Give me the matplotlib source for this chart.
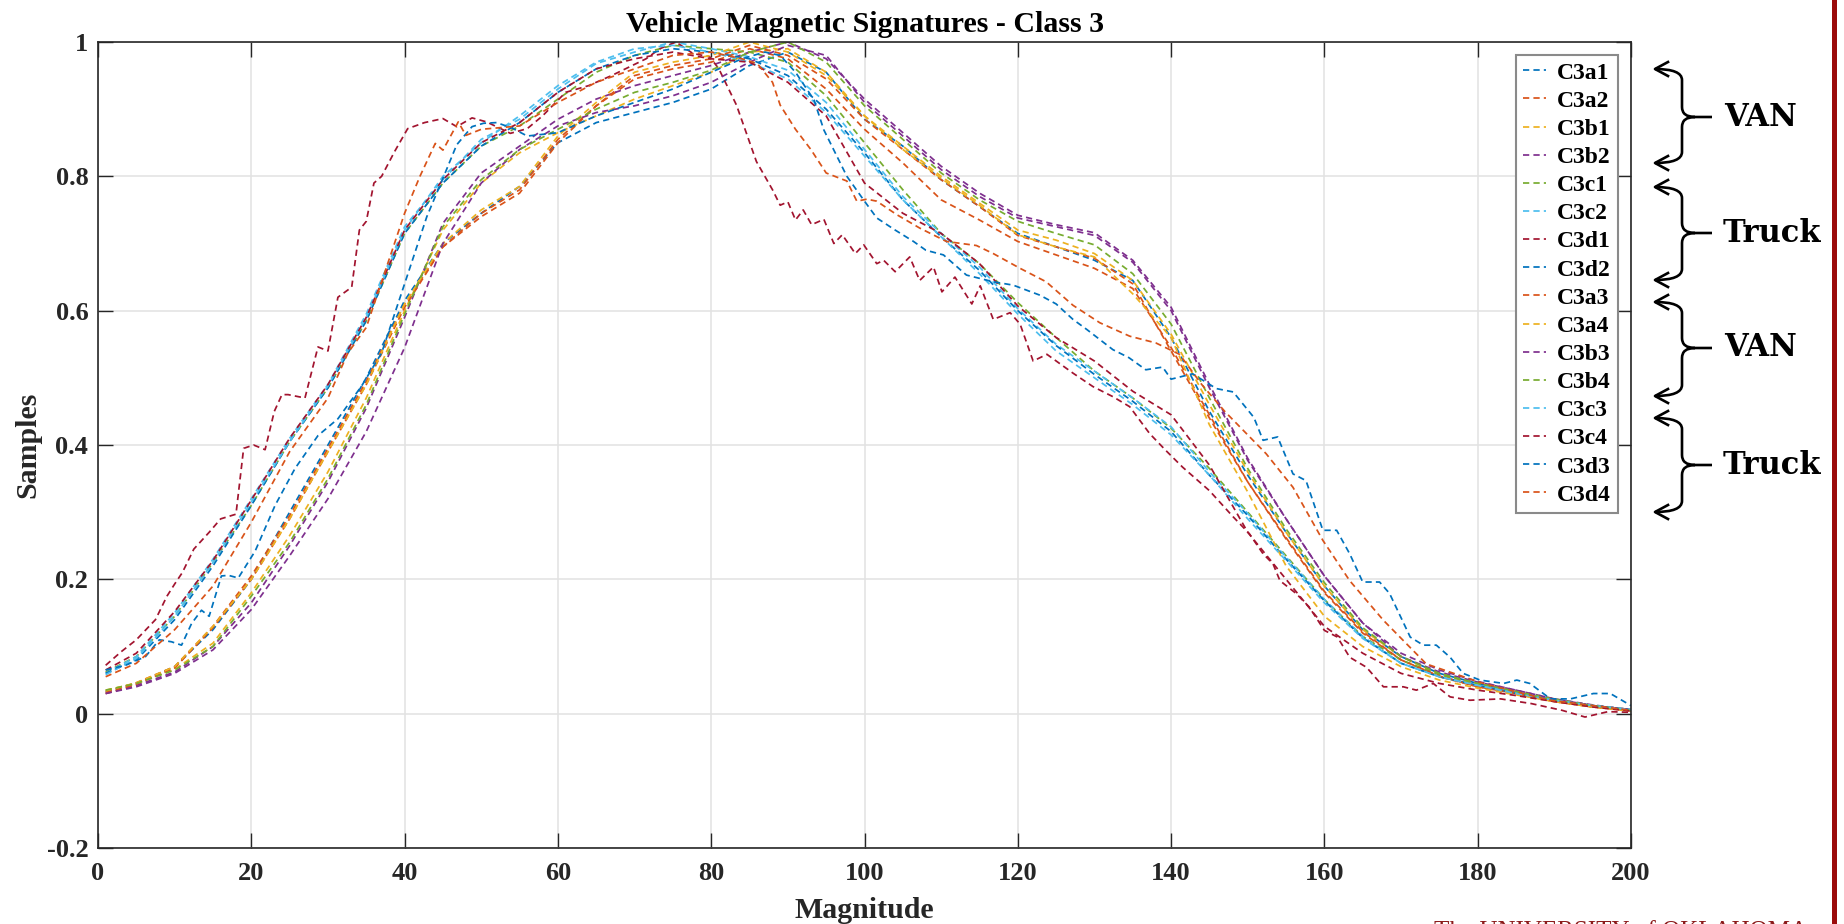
import matplotlib
matplotlib.use('Agg')
import matplotlib.pyplot as plt
from matplotlib.path import Path
from matplotlib.patches import PathPatch, Rectangle
from matplotlib.lines import Line2D
import matplotlib.transforms as mtransforms
from matplotlib.font_manager import FontProperties

# ---------------- data ----------------
X_COMMON = [1, 5, 10, 15, 20, 25, 30, 35, 40, 45, 50, 55, 60, 65, 70, 75, 80, 85, 90, 95,
            100, 105, 110, 115, 120, 125, 130, 135, 140, 145, 150, 155, 160, 165, 170, 175,
            180, 185, 190, 195, 200]

C3a1 = [0.033, 0.045, 0.07, 0.125, 0.2, 0.3, 0.40, 0.50, 0.615, 0.70, 0.745, 0.785, 0.85, 0.88,
        0.895, 0.91, 0.93, 0.965, 0.985, 0.955, 0.885, 0.845, 0.795, 0.755, 0.715, 0.695, 0.675,
        0.645, 0.56, 0.45, 0.355, 0.27, 0.19, 0.125, 0.085, 0.06, 0.045, 0.032, 0.02, 0.012, 0.005]
C3a2 = [0.032, 0.046, 0.07, 0.13, 0.205, 0.295, 0.395, 0.495, 0.61, 0.695, 0.745, 0.78, 0.855,
        0.905, 0.945, 0.96, 0.97, 0.99, 0.975, 0.93, 0.87, 0.82, 0.765, 0.735, 0.703, 0.683, 0.663,
        0.633, 0.545, 0.445, 0.345, 0.26, 0.18, 0.12, 0.08, 0.055, 0.04, 0.03, 0.018, 0.01, 0.004]
C3b1 = [0.035, 0.045, 0.066, 0.105, 0.18, 0.265, 0.36, 0.47, 0.60, 0.72, 0.79, 0.835, 0.865, 0.89,
        0.915, 0.935, 0.955, 0.985, 0.99, 0.955, 0.89, 0.845, 0.80, 0.76, 0.72, 0.705, 0.685, 0.645,
        0.565, 0.46, 0.36, 0.27, 0.19, 0.125, 0.085, 0.058, 0.042, 0.03, 0.02, 0.01, 0.005]
C3b2 = [0.03, 0.042, 0.062, 0.10, 0.165, 0.25, 0.345, 0.455, 0.59, 0.73, 0.805, 0.845, 0.885, 0.915,
        0.935, 0.95, 0.965, 0.985, 1.0, 0.975, 0.915, 0.865, 0.815, 0.775, 0.742, 0.728, 0.716,
        0.675, 0.605, 0.49, 0.38, 0.29, 0.205, 0.135, 0.085, 0.062, 0.047, 0.035, 0.022, 0.013, 0.006]
C3c1 = [0.062, 0.085, 0.145, 0.225, 0.31, 0.405, 0.485, 0.585, 0.715, 0.79, 0.845, 0.875, 0.915,
        0.955, 0.98, 0.995, 0.99, 0.985, 0.97, 0.92, 0.85, 0.78, 0.715, 0.67, 0.612, 0.56, 0.51,
        0.47, 0.425, 0.365, 0.30, 0.235, 0.17, 0.115, 0.08, 0.058, 0.045, 0.033, 0.022, 0.012, 0.006]
C3c2 = [0.06, 0.085, 0.15, 0.23, 0.32, 0.41, 0.49, 0.595, 0.725, 0.795, 0.855, 0.885, 0.93, 0.968,
        0.985, 1.0, 0.99, 0.978, 0.958, 0.91, 0.84, 0.77, 0.715, 0.665, 0.603, 0.55, 0.51, 0.47,
        0.427, 0.36, 0.298, 0.233, 0.17, 0.115, 0.075, 0.055, 0.042, 0.032, 0.02, 0.012, 0.006]
C3d1_x = [1, 3, 5, 7.5, 9, 10, 11, 12.5, 14.5, 16, 18, 19, 20.3, 21.8, 23, 24, 24.8, 27, 28.7, 30,
          31.3, 33.1, 34.1, 35, 36, 37, 38.7, 40.4, 42.6, 45, 46.8, 48.8, 50.7, 53.8, 56, 58, 61,
          64, 67, 71.5, 73.3, 75.4, 77.6, 79.8, 81, 83.3, 85.9, 88, 89, 90, 91, 92, 93.1, 94.7, 96,
          97.1, 98.8, 99.9, 101.6, 102.5, 104, 105.9, 107.2, 109, 110.1, 111.8, 114, 115.1, 116.8,
          119, 120.3, 122, 123.8, 127.2, 129.8, 132.4, 134.6, 137.2, 139.3, 141.5, 145, 148.1,
          150.2, 152, 153.3, 154.2, 156.3, 158, 160, 161.7, 163.3, 165.5, 167.7, 170.3, 172, 174.2,
          176.4, 179, 183, 187, 191, 194, 197, 200]
C3d1 = [0.072, 0.092, 0.11, 0.14, 0.175, 0.193, 0.21, 0.245, 0.27, 0.29, 0.297, 0.395, 0.40, 0.393,
        0.45, 0.475, 0.475, 0.47, 0.546, 0.54, 0.62, 0.635, 0.72, 0.733, 0.79, 0.80, 0.837, 0.871,
        0.88, 0.886, 0.874, 0.887, 0.881, 0.864, 0.871, 0.89, 0.925, 0.935, 0.95, 0.975, 0.99, 1.0,
        0.983, 0.978, 0.96, 0.906, 0.822, 0.78, 0.757, 0.762, 0.735, 0.75, 0.728, 0.736, 0.70,
        0.713, 0.685, 0.698, 0.67, 0.675, 0.658, 0.68, 0.645, 0.665, 0.628, 0.65, 0.61, 0.637,
        0.587, 0.597, 0.58, 0.525, 0.535, 0.507, 0.487, 0.472, 0.457, 0.417, 0.392, 0.367, 0.332,
        0.293, 0.268, 0.238, 0.223, 0.198, 0.179, 0.159, 0.124, 0.114, 0.084, 0.069, 0.04, 0.04,
        0.035, 0.045, 0.025, 0.02, 0.022, 0.015, 0.005, -0.005, 0.003, 0.002]
C3d2 = [0.06, 0.08, 0.14, 0.22, 0.31, 0.405, 0.485, 0.585, 0.715, 0.79, 0.845, 0.88, 0.925, 0.96,
        0.98, 0.99, 0.985, 0.975, 0.95, 0.90, 0.835, 0.765, 0.71, 0.66, 0.60, 0.548, 0.505, 0.465,
        0.42, 0.355, 0.295, 0.23, 0.168, 0.113, 0.075, 0.055, 0.042, 0.03, 0.02, 0.012, 0.006]
C3a3 = [0.03, 0.044, 0.068, 0.128, 0.2, 0.29, 0.39, 0.49, 0.605, 0.695, 0.74, 0.775, 0.85, 0.905,
        0.95, 0.965, 0.975, 0.995, 0.98, 0.945, 0.885, 0.84, 0.795, 0.755, 0.712, 0.695, 0.678,
        0.64, 0.54, 0.44, 0.345, 0.262, 0.182, 0.122, 0.08, 0.056, 0.04, 0.03, 0.018, 0.01, 0.004]
C3a4 = [0.034, 0.046, 0.07, 0.13, 0.2, 0.29, 0.39, 0.49, 0.61, 0.70, 0.75, 0.785, 0.86, 0.91, 0.955,
        0.97, 0.98, 1.0, 0.985, 0.95, 0.89, 0.84, 0.797, 0.757, 0.713, 0.695, 0.68, 0.625, 0.56,
        0.43, 0.33, 0.22, 0.145, 0.10, 0.07, 0.05, 0.038, 0.028, 0.018, 0.01, 0.004]
C3b3 = [0.03, 0.04, 0.06, 0.095, 0.155, 0.235, 0.32, 0.42, 0.545, 0.70, 0.79, 0.84, 0.875, 0.895,
        0.905, 0.92, 0.94, 0.97, 0.995, 0.98, 0.91, 0.86, 0.81, 0.77, 0.738, 0.725, 0.712, 0.672,
        0.60, 0.485, 0.377, 0.29, 0.205, 0.135, 0.09, 0.065, 0.048, 0.035, 0.022, 0.012, 0.006]
C3b4 = [0.035, 0.045, 0.065, 0.10, 0.175, 0.255, 0.35, 0.46, 0.595, 0.725, 0.795, 0.84, 0.87, 0.90,
        0.925, 0.94, 0.958, 0.985, 1.0, 0.97, 0.905, 0.855, 0.805, 0.765, 0.733, 0.715, 0.698,
        0.655, 0.58, 0.47, 0.365, 0.275, 0.195, 0.128, 0.085, 0.06, 0.045, 0.033, 0.02, 0.012, 0.005]
C3c3 = [0.058, 0.082, 0.145, 0.225, 0.315, 0.405, 0.488, 0.59, 0.72, 0.80, 0.85, 0.89, 0.935, 0.97,
        0.99, 0.995, 0.985, 0.97, 0.945, 0.895, 0.83, 0.765, 0.71, 0.655, 0.595, 0.54, 0.50, 0.46,
        0.415, 0.355, 0.29, 0.228, 0.165, 0.112, 0.075, 0.055, 0.042, 0.03, 0.02, 0.012, 0.006]
C3c4 = [0.065, 0.09, 0.152, 0.228, 0.318, 0.41, 0.49, 0.59, 0.72, 0.795, 0.85, 0.88, 0.925, 0.96,
        0.975, 0.985, 0.975, 0.97, 0.94, 0.89, 0.79, 0.745, 0.715, 0.67, 0.607, 0.56, 0.525, 0.48,
        0.445, 0.37, 0.27, 0.20, 0.13, 0.09, 0.06, 0.045, 0.035, 0.027, 0.018, 0.01, 0.004]
C3d3_x = [1, 3.6, 6.2, 8, 9.6, 10.9, 12.2, 13.5, 14.5, 16.1, 17, 18.3, 20.5, 23.1, 25.7, 28.7, 31.3,
          34.4, 37, 40, 42.9, 45, 46.8, 48.8, 50.3, 52, 54, 56, 60, 65, 70, 75, 80, 84, 87, 89, 91,
          93.4, 94.7, 97.7, 100, 101.6, 104, 106.4, 108, 110.3, 113.3, 116.8, 119.4, 122.9, 125,
          127.2, 129, 132.4, 134.5, 136.7, 138.9, 140, 142.8, 145.9, 148.1, 150.8, 152, 153.9,
          155.9, 157.6, 159.8, 161.6, 163.3, 165, 167.2, 168.5, 171.2, 172.9, 174.6, 176.4, 178.1,
          180.3, 183.4, 185.1, 186.8, 189.5, 192.1, 195.1, 197.3, 200]
C3d3 = [0.065, 0.072, 0.085, 0.11, 0.107, 0.102, 0.134, 0.154, 0.145, 0.205, 0.206, 0.202, 0.242,
        0.31, 0.365, 0.414, 0.439, 0.488, 0.537, 0.64, 0.74, 0.797, 0.847, 0.874, 0.879, 0.88,
        0.872, 0.86, 0.865, 0.89, 0.91, 0.93, 0.955, 0.975, 0.985, 0.98, 0.955, 0.914, 0.869, 0.80,
        0.763, 0.738, 0.72, 0.703, 0.69, 0.683, 0.653, 0.643, 0.638, 0.623, 0.61, 0.587, 0.572,
        0.542, 0.53, 0.512, 0.516, 0.498, 0.506, 0.484, 0.479, 0.441, 0.407, 0.412, 0.357, 0.347,
        0.273, 0.273, 0.238, 0.196, 0.196, 0.179, 0.114, 0.102, 0.102, 0.084, 0.06, 0.05, 0.045,
        0.05, 0.045, 0.022, 0.022, 0.03, 0.03, 0.012]
C3d4_x = [1, 5, 10, 15, 20, 25, 30, 32.6, 35, 40, 42, 44, 45, 47, 48, 50, 55, 60, 65, 70, 75, 80,
          84, 86, 88, 89, 91, 93, 95, 97.7, 99, 100.3, 101.6, 104.2, 107.2, 110.7, 114.6, 116.8,
          120.3, 123.7, 127.2, 130.7, 134.6, 138, 141.1, 144, 147, 152.4, 155.9, 159.8, 163.3,
          167.7, 173.3, 180.7, 189.5, 200]
C3d4 = [0.055, 0.075, 0.125, 0.19, 0.285, 0.39, 0.47, 0.537, 0.575, 0.745, 0.80, 0.849, 0.839,
        0.881, 0.861, 0.87, 0.875, 0.91, 0.94, 0.96, 0.98, 0.985, 0.975, 0.968, 0.94, 0.906, 0.87,
        0.84, 0.805, 0.793, 0.763, 0.766, 0.763, 0.743, 0.723, 0.703, 0.697, 0.685, 0.663, 0.643,
        0.608, 0.582, 0.562, 0.552, 0.535, 0.49, 0.45, 0.387, 0.337, 0.258, 0.198, 0.139, 0.074,
        0.045, 0.02, 0.005]

LABELS = ['C3a1', 'C3a2', 'C3b1', 'C3b2', 'C3c1', 'C3c2', 'C3d1', 'C3d2',
          'C3a3', 'C3a4', 'C3b3', 'C3b4', 'C3c3', 'C3c4', 'C3d3', 'C3d4']
COLORS = ['#0072BD', '#D95319', '#EDB120', '#7E2F8E', '#77AC30', '#4DBEEE', '#A2142F']
X_TICKS = [0, 20, 40, 60, 80, 100, 120, 140, 160, 180, 200]
Y_TICKS = [-0.2, 0, 0.2, 0.4, 0.6, 0.8, 1.0]
Y_TICK_LABELS = ['-0.2', '0', '0.2', '0.4', '0.6', '0.8', '1']
GROUPS = [('VAN', 69, 117, 163), ('Truck', 187, 233, 280),
          ('VAN', 302, 348, 396), ('Truck', 418, 465, 512)]

series = [
    (X_COMMON, C3a1), (X_COMMON, C3a2), (X_COMMON, C3b1), (X_COMMON, C3b2),
    (X_COMMON, C3c1), (X_COMMON, C3c2), (C3d1_x, C3d1), (X_COMMON, C3d2),
    (X_COMMON, C3a3), (X_COMMON, C3a4), (X_COMMON, C3b3), (X_COMMON, C3b4),
    (X_COMMON, C3c3), (X_COMMON, C3c4), (C3d3_x, C3d3), (C3d4_x, C3d4),
]

# ---------------- figure ----------------
plt.rcParams['font.family'] = ['Liberation Serif', 'DejaVu Serif']
plt.rcParams['font.weight'] = 'bold'
plt.rcParams['lines.scale_dashes'] = False

W, H = 1844, 924
fig = plt.figure(figsize=(W / 100, H / 100), dpi=100)
fig.patch.set_facecolor('white')
L, R, T, B = 98, 1631, 42, 848
ax = fig.add_axes([L / W, 1 - B / H, (R - L) / W, (B - T) / H])

for i, ((xs, ys), lab) in enumerate(zip(series, LABELS)):
    ax.plot(xs, ys, color=COLORS[i % 7], lw=1.25, linestyle=(0, (4.5, 3.0)), label=lab)

ax.set_xlim(0, 200)
ax.set_ylim(-0.2, 1.0)
ax.set_xticks(X_TICKS)
ax.set_xticklabels([str(v) for v in X_TICKS])
ax.set_yticks(Y_TICKS)
ax.set_yticklabels(Y_TICK_LABELS)
ax.grid(True, color='#e2e2e2', lw=1.1)
ax.set_axisbelow(True)
for s in ax.spines.values():
    s.set_color('#262626')
    s.set_linewidth(1.2)
ax.tick_params(direction='in', length=10.8, width=1.0, top=True, right=True,
               labelsize=19, colors='#262626')
ax.tick_params(axis='x', pad=10)
ax.tick_params(axis='y', pad=7)
for t in ax.get_xticklabels() + ax.get_yticklabels():
    t.set_fontweight('bold')

ax.set_title('Vehicle Magnetic Signatures - Class 3', fontsize=21.5, fontweight='bold', pad=7)
ax.set_xlabel('Magnitude', fontsize=21.5, fontweight='bold', labelpad=9, color='#262626')
ax.set_ylabel('Samples', fontsize=21.5, fontweight='bold', labelpad=4, color='#262626')

leg = ax.legend(loc='upper right', bbox_to_anchor=(1618 / W, 1 - 55 / H),
                bbox_transform=fig.transFigure, borderaxespad=0,
                prop=FontProperties(family='Liberation Serif', weight='bold', size=17),
                handlelength=1.0, handletextpad=0.45, borderpad=0.3, labelspacing=0.28,
                frameon=True, fancybox=False, framealpha=1)
leg.get_frame().set_edgecolor('#8a8a8a')
leg.get_frame().set_linewidth(1.5)

# pixel-coordinate transform (origin top-left)
ptr = mtransforms.Affine2D().scale(1 / W, -1 / H).translate(0, 1) + fig.transFigure

xt, xv, xm = 1655, 1682, 1712
for name, top, mid, bot in GROUPS:
    verts = [(xt, top), (xv, top), (xv, top + 11),
             (xv, mid - 10),
             (xv, mid), (xv + 13, mid),
             (xm, mid),
             (xv + 13, mid), (xv, mid), (xv, mid + 10),
             (xv, bot - 11),
             (xv, bot), (xt, bot)]
    codes = [Path.MOVETO, Path.CURVE3, Path.CURVE3,
             Path.LINETO,
             Path.CURVE3, Path.CURVE3,
             Path.LINETO,
             Path.MOVETO, Path.CURVE3, Path.CURVE3,
             Path.LINETO,
             Path.CURVE3, Path.CURVE3]
    fig.patches.append(PathPatch(Path(verts, codes), transform=ptr, fill=False,
                                 edgecolor='black', lw=1.9))
    for ya in (top, bot):
        fig.lines.append(Line2D([xt + 13, xt, xt + 13], [ya - 7, ya, ya + 7],
                                transform=ptr, color='black', lw=1.9))
    cx = 1761 if name == 'VAN' else 1772
    fig.text(cx, mid, name, transform=ptr, ha='center', va='center',
             fontsize=22, fontweight='bold', family='DejaVu Serif', color='black')

# red vertical bar at right edge
fig.patches.append(Rectangle((1832, 0), 5, H, transform=ptr, color='#9b0b0b', lw=0))

# partially visible footer text (cut off by the bottom edge, as in the reference)
fig.text(1434, 921, 'The UNIVERSITY of OKLAHOMA', transform=ptr, ha='left', va='top',
         fontsize=18, fontweight='normal', family='Liberation Serif', color='#8b1a1a')

fig.savefig('out.png', dpi=100)
